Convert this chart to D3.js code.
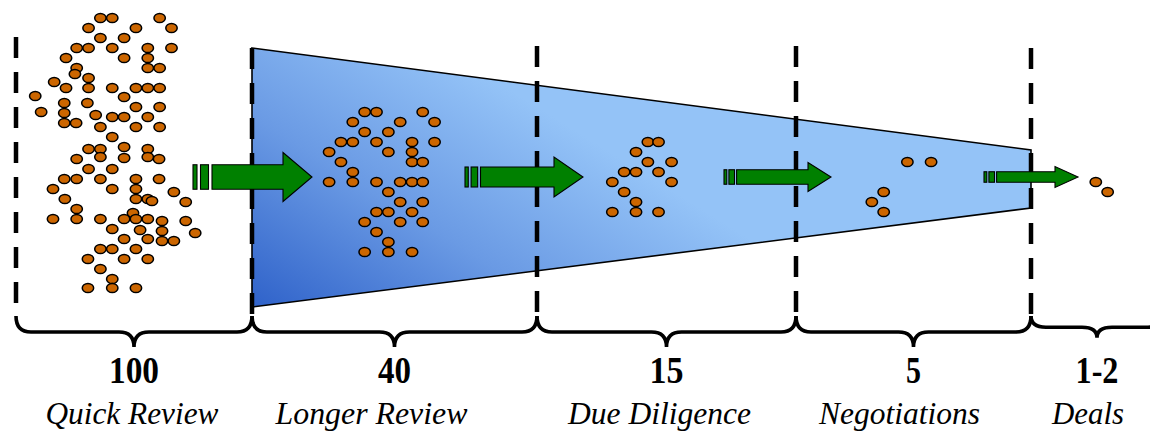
<!DOCTYPE html>
<html>
<head>
<meta charset="utf-8">
<script src="https://cdn.jsdelivr.net/npm/d3@7"></script>
<style>
  html, body { margin: 0; padding: 0; background: #fff; }
  svg { display: block; }
  .serif { font-family: 'Liberation Serif', 'DejaVu Serif', 'Times New Roman', serif; }
</style>
</head>
<body>
<script>
// stages of the deal funnel
const stages = ['Quick Review', 'Longer Review', 'Due Diligence', 'Negotiations', 'Deals'];
const counts = ['100', '40', '15', '5', '1-2'];

// dots per stage, [column, row] on the dot grid
const quickDots = [
  [4,0],[5,0],[9,0],[3,1],[7,1],[10,1],[4,2],[6,2],[2,3],[3,3],[5,3],[8,3],[10,3],
  [1.1,4],[6,4],[8,4],[2,5],[1.85,5.6],[8,5],[9,5],[3,6],[0.1,6.4],[1.1,7],[3,7],
  [5,7],[7,7],[8,7],[9,7],[-1.5,7.8],[6,7.9],[0.95,8.5],[2.9,8.5],[7,8.9],[9,8.9],
  [-1,9.4],[0.95,9.5],[3.6,9.7],[5,9.9],[6,9.9],[8,9.9],[0.95,10.5],[1.95,10.5],
  [4,10.9],[7,10.9],[9,10.9],[5,11.9],[3,13.1],[4,13.1],[6,12.9],[8,13.1],
  [4,13.9],[6,14],[8,13.9],[8.95,14.1],[2,14.1],[3,15.1],[5,15.1],[0.95,16.1],
  [2,16.1],[4,16.1],[7,16.1],[8.95,16.1],[0,17.1],[5,17.1],[7,17.1],[10.2,17.4],
  [1,18.1],[7,18.1],[8,18.1],[8.35,18.3],[11.2,18.4],[2,19.1],[6.75,19.5],[0,20.1],
  [2,20.1],[4,20.1],[6,20.1],[7,20.1],[8,20.1],[9.2,20.3],[11.2,20.3],[5,21.1],
  [7.35,21.2],[9.2,21.3],[12,21.5],[6,22.1],[8,22.1],[9.2,22.3],[10.2,22.3],
  [4,23.1],[5,23.1],[7,23.1],[2.95,24.1],[6,24.1],[8,24.1],[4,25.1],[5,26.1],
  [2.95,27],[5,27],[7,27]
];
const longerDots = [
  [26.3,9.4],[27.3,9.4],[31.2,9.4],[25.3,10.4],[29.3,10.4],[32.2,10.4],[26.3,11.4],
  [28.3,11.4],[24.3,12.4],[25.3,12.4],[27.3,12.4],[30.3,12.4],[32.2,12.4],[23.3,13.4],
  [28.3,13.4],[30.3,13.4],[24.3,14.4],[30.3,14.4],[31.2,14.4],[25.3,15.4],[23.3,16.4],
  [25.3,16.4],[27.3,16.4],[29.3,16.4],[30.3,16.4],[31.2,16.4],[28.3,17.4],[29.3,18.4],
  [31.2,18.4],[27.3,19.4],[28.3,19.4],[30.3,19.4],[26.3,20.4],[29.3,20.4],[31.2,20.4],
  [27.3,21.4],[28.3,22.4],[26.3,23.4],[28.3,23.4],[30.3,23.4]
];
const diligenceDots = [
  [50.2,12.4],[51.1,12.4],[49.2,13.4],[50.2,14.4],[52.2,14.4],[48.2,15.4],[49.2,15.4],
  [51.1,15.4],[47.2,16.4],[52.2,16.4],[48.2,17.4],[49.2,18.4],[47.2,19.4],[49.2,19.4],
  [51.1,19.4]
];
const negotiationDots = [[72.1,14.4],[74.1,14.4],[70.1,17.4],[69.1,18.4],[70.1,19.4]];
const dealDots = [[88,16.4],[89,17.4]];

function main(){
    let width = 1150, height = 431;
    let bounds = [16, 252, 537, 796, 1031, 1163]; // stage dividers (last one is off-canvas)
    let lineTop = [37, 48, 46, 46, 48];
    let lineBottom = 316;

    var svg = d3.select('body')
        .append('svg')
        .attr('width', width)
        .attr('height', height);

    var x = d3.scaleLinear().domain([0, 100]).range([53, 53 + 1185]); // dot grid columns
    var y = d3.scaleLinear().domain([0, 27]).range([18, 288]);        // dot grid rows

    // funnel gradient
    var grad = svg.append('defs').append('linearGradient')
        .attr('id', 'funnelGrad')
        .attr('gradientUnits', 'userSpaceOnUse')
        .attr('x1', 262).attr('y1', 310)
        .attr('x2', 430).attr('y2', 40);
    grad.append('stop').attr('offset', '0%').attr('stop-color', '#3063ca');
    grad.append('stop').attr('offset', '50%').attr('stop-color', '#6a9ae4');
    grad.append('stop').attr('offset', '100%').attr('stop-color', '#94c3f7');

    // funnel shape
    svg.append('path')
        .attr('d', d3.line()([[bounds[1], 48], [bounds[4], 150], [bounds[4], 208], [bounds[1], 307]]) + 'Z')
        .attr('fill', 'url(#funnelGrad)')
        .attr('stroke', '#000')
        .attr('stroke-width', 1.6);

    // dashed stage dividers
    svg.selectAll('line.divider')
        .data(bounds.slice(0, 5))
        .enter()
        .append('line')
        .attr('class', 'divider')
        .attr('x1', d => d).attr('x2', d => d)
        .attr('y1', (d, i) => lineTop[i])
        .attr('y2', lineBottom)
        .attr('stroke', '#000')
        .attr('stroke-width', 4.5)
        .attr('stroke-dasharray', '21 14');

    // green arrows: start, tip, height of head
    let arrows = [[193, 312, 49], [465, 583, 40], [724, 831, 29], [984, 1078, 21]];
    let cy = 177;
    var arrowG = svg.selectAll('g.arrow')
        .data(arrows)
        .enter()
        .append('g')
        .attr('class', 'arrow');
    arrowG.each(function(a){
        let g = d3.select(this);
        let x0 = a[0], tip = a[1], hh = a[2];
        let sh = hh * 0.5;        // shaft height
        let k = hh / 49;          // size relative to the first arrow
        let headLen = Math.max(23, 29 * Math.min(1, k + 0.2));
        let b1 = 4 * Math.max(k, 0.7), b2 = 8 * Math.max(k, 0.7), gap = 3.5 * Math.max(k, 0.6);
        g.append('rect').attr('x', x0).attr('y', cy - sh / 2).attr('width', b1).attr('height', sh);
        g.append('rect').attr('x', x0 + b1 + gap).attr('y', cy - sh / 2).attr('width', b2).attr('height', sh);
        let s = x0 + b1 + b2 + gap * 2;
        g.append('path').attr('d', d3.line()([
            [s, cy - sh / 2], [tip - headLen, cy - sh / 2], [tip - headLen, cy - hh / 2],
            [tip, cy], [tip - headLen, cy + hh / 2], [tip - headLen, cy + sh / 2], [s, cy + sh / 2]
        ]) + 'Z');
        g.selectAll('rect, path')
            .attr('fill', '#008000')
            .attr('stroke', '#000')
            .attr('stroke-width', 1.1);
    });

    // dots
    let allDots = [].concat(quickDots, longerDots, diligenceDots, negotiationDots, dealDots);
    svg.selectAll('ellipse')
        .data(allDots)
        .enter()
        .append('ellipse')
        .attr('cx', d => x(d[0]))
        .attr('cy', d => y(d[1]))
        .attr('rx', 5.7)
        .attr('ry', 4.6)
        .attr('fill', '#cc6600')
        .attr('stroke', '#000')
        .attr('stroke-width', 1.5);

    // braces under each stage
    function brace(xa, xb, y0, y1, y2){
        let xm = (xa + xb) / 2, r = 15;
        return `M${xa},${y0} Q${xa},${y1} ${xa + r},${y1} L${xm - r},${y1} Q${xm},${y1} ${xm},${y2}` +
               ` Q${xm},${y1} ${xm + r},${y1} L${xb - r},${y1} Q${xb},${y1} ${xb},${y0}`;
    }
    let braceSize = [1, 1, 1, 1, 0.7];
    svg.selectAll('path.brace')
        .data(stages)
        .enter()
        .append('path')
        .attr('class', 'brace')
        .attr('d', (d, i) => {
            let s = braceSize[i];
            return brace(bounds[i], bounds[i + 1], 316, 316 + 16 * s, 316 + 31 * s);
        })
        .attr('fill', 'none')
        .attr('stroke', '#000')
        .attr('stroke-width', 3.6);

    // counts and stage names
    let labelDx = [-2, -23, -7, -14, -9];
    let countWidth = [50, 33, 34, 15, 43];
    let labelWidth = [173, 192, 183, 161, 72];
    var lab = svg.selectAll('g.label')
        .data(stages)
        .enter()
        .append('g')
        .attr('class', 'label')
        .attr('transform', (d, i) => `translate(${(bounds[i] + bounds[i + 1]) / 2},0)`);
    lab.append('text')
        .attr('class', 'serif')
        .attr('y', 383)
        .attr('text-anchor', 'middle')
        .attr('textLength', (d, i) => countWidth[i])
        .attr('lengthAdjust', 'spacingAndGlyphs')
        .attr('font-weight', 'bold')
        .attr('font-size', 37)
        .text((d, i) => counts[i]);
    lab.append('text')
        .attr('class', 'serif')
        .attr('x', (d, i) => labelDx[i])
        .attr('y', 424)
        .attr('text-anchor', 'middle')
        .attr('textLength', (d, i) => labelWidth[i])
        .attr('lengthAdjust', 'spacingAndGlyphs')
        .attr('font-style', 'italic')
        .attr('font-size', 31)
        .text(d => d);
}
main();
</script>
</body>
</html>
